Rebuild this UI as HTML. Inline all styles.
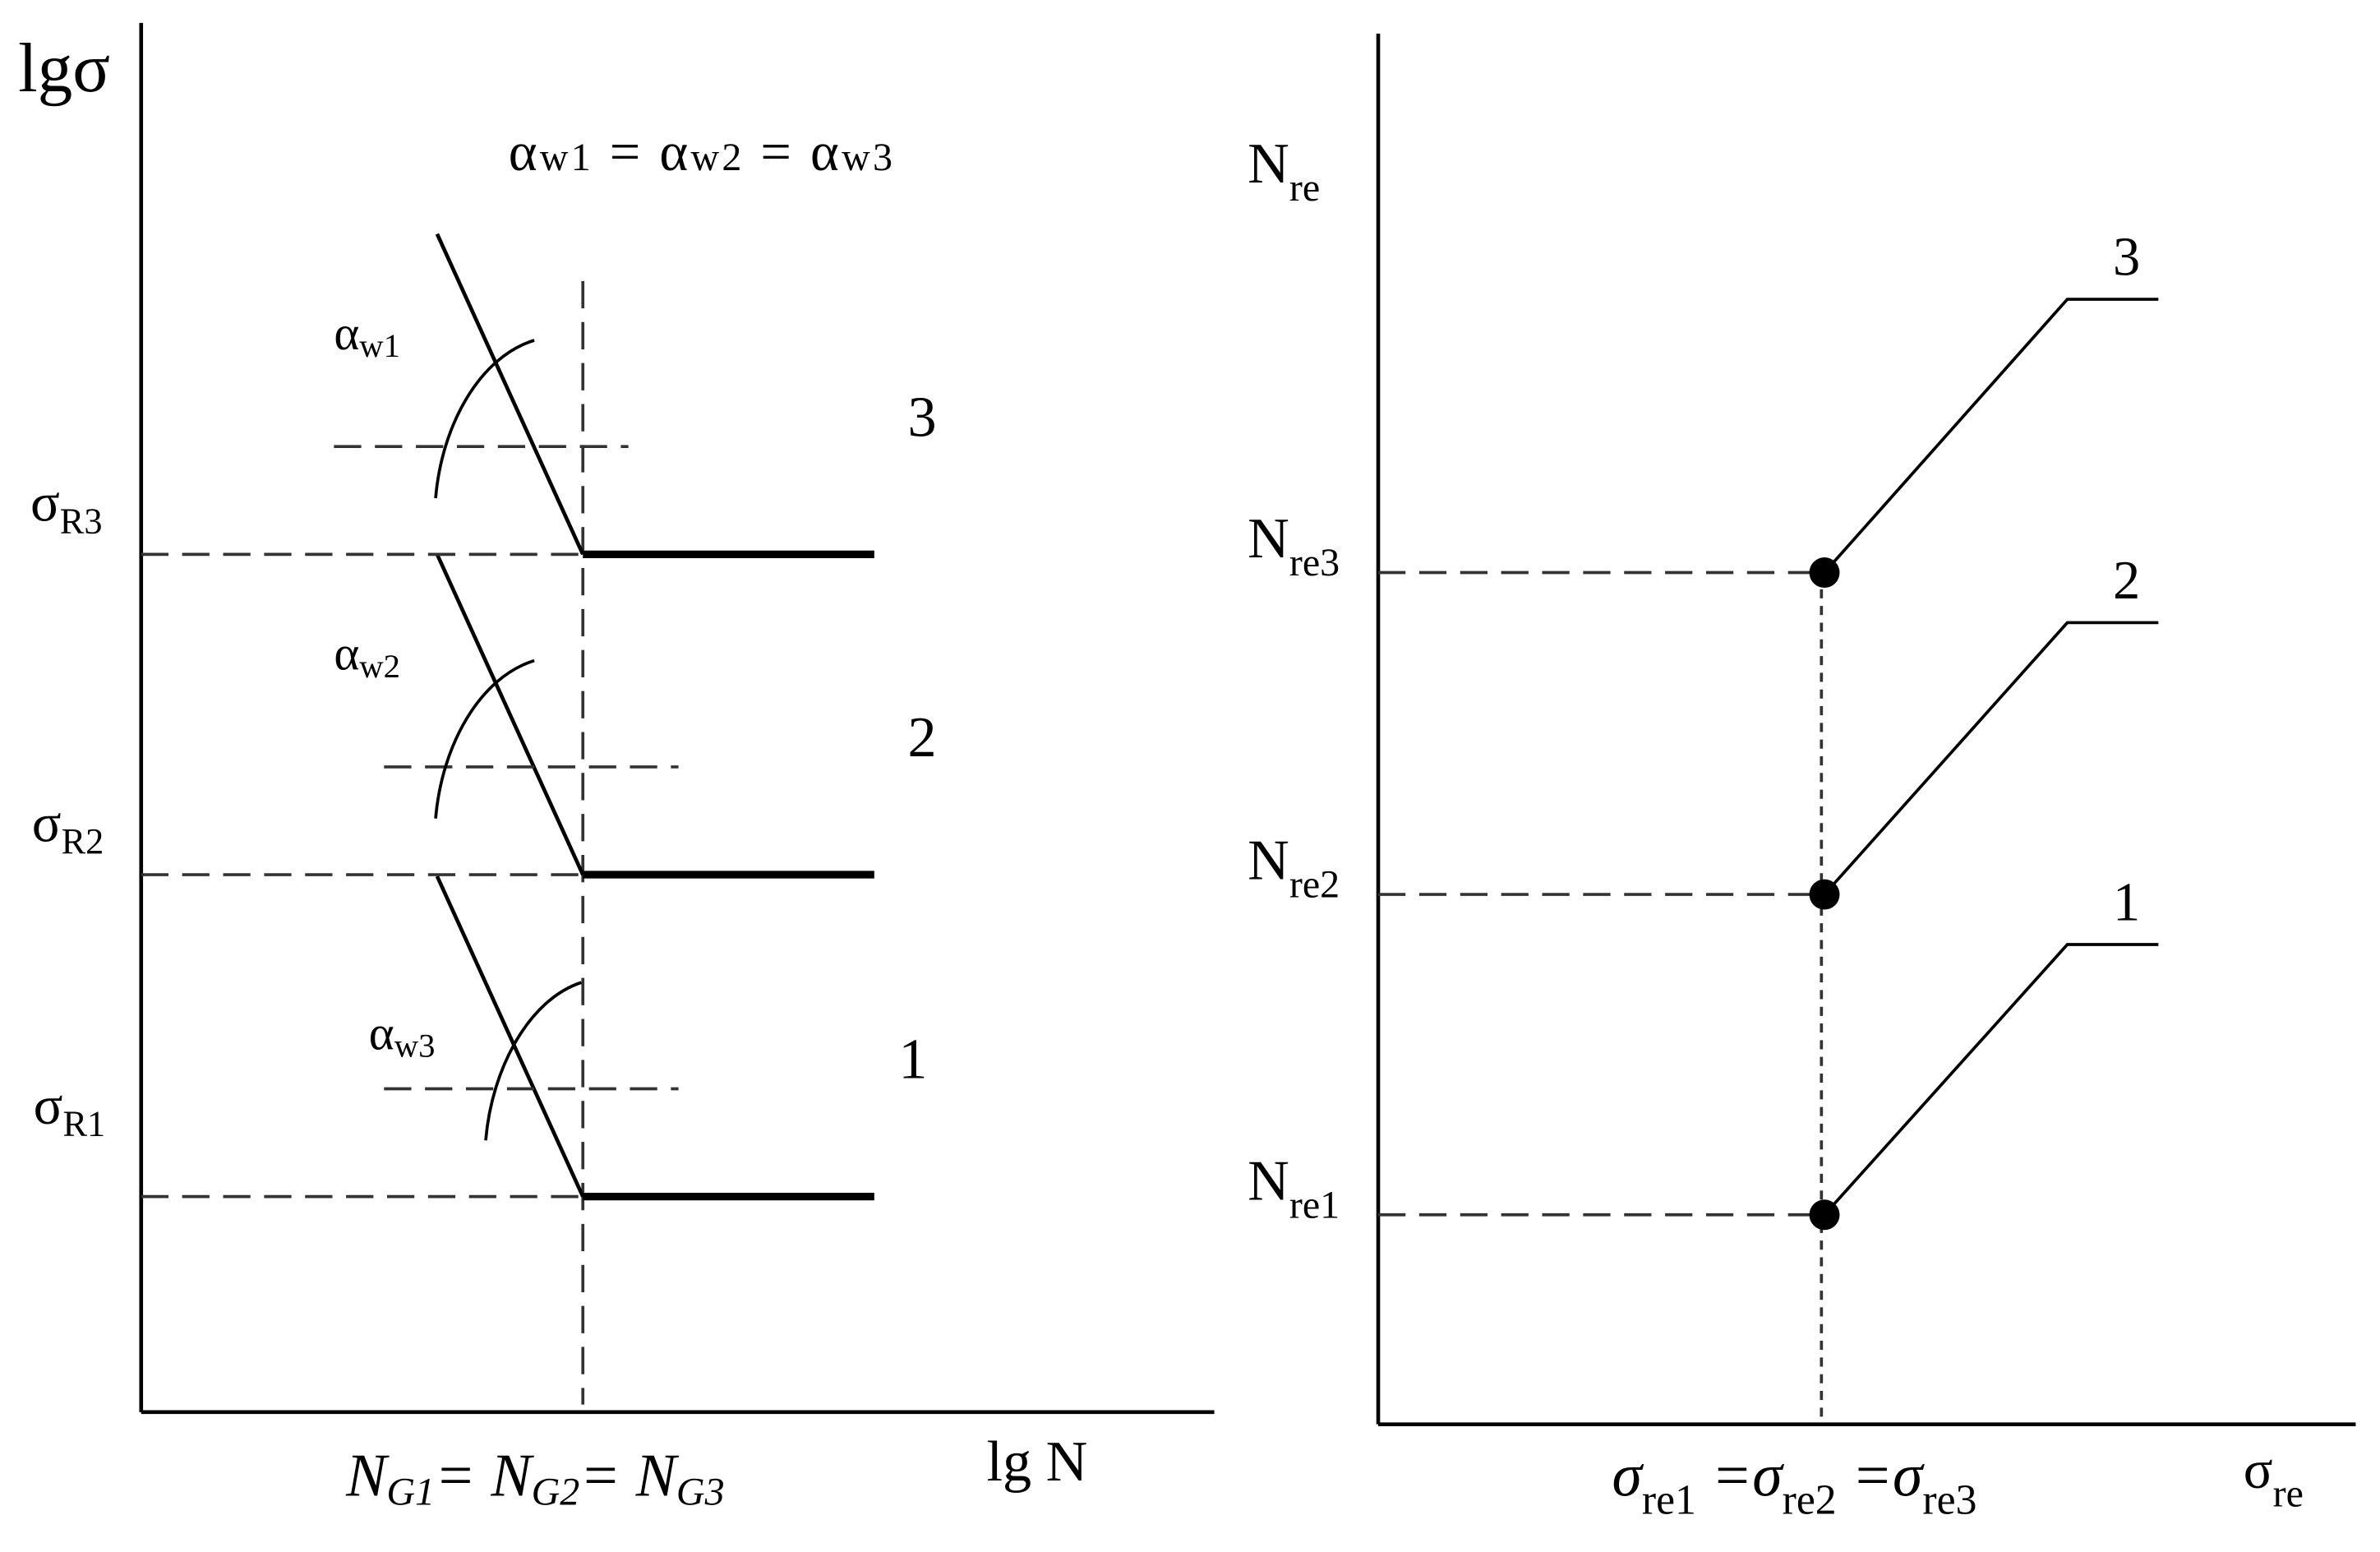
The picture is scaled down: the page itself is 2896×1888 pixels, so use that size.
<!DOCTYPE html>
<html><head><meta charset="utf-8"><style>
html,body{margin:0;padding:0;background:#fff;}
svg{display:block;}
text{font-family:"Liberation Serif",serif;fill:#000;}
</style></head><body>
<svg width="2896" height="1888" viewBox="0 0 1568 1022" xmlns="http://www.w3.org/2000/svg">
<g id="left" stroke="#000" fill="none">
  <line x1="93" y1="15" x2="93" y2="930" stroke-width="2.5"/>
  <line x1="93" y1="930" x2="800" y2="930" stroke-width="2.5"/>
  <line x1="384" y1="185" x2="384" y2="925" stroke-width="2" stroke-dasharray="18,9" stroke="#333"/>
</g>
<g id="right" stroke="#000" fill="none">
  <line x1="908" y1="22" x2="908" y2="938" stroke-width="2.5"/>
  <line x1="908" y1="938" x2="1552" y2="938" stroke-width="2.5"/>
  <line x1="1200" y1="377" x2="1200" y2="938" stroke-width="2" stroke-dasharray="6,5" stroke="#333"/>
</g>
<text x="12" y="60" font-size="46">lgσ</text>
<text x="335" y="112" font-size="36" textLength="253" lengthAdjust="spacing">α<tspan font-size="26">w1</tspan> = α<tspan font-size="26">w2</tspan> = α<tspan font-size="26">w3</tspan></text>
<text x="228" y="985" font-size="40" font-style="italic">N<tspan font-size="26" dy="6">G1</tspan><tspan dy="-6">= N</tspan><tspan font-size="26" dy="6">G2</tspan><tspan dy="-6">= N</tspan><tspan font-size="26" dy="6">G3</tspan></text>
<text x="650" y="975" font-size="38">lg N</text>
<text x="822" y="120" font-size="38">N<tspan font-size="26" dy="12">re</tspan></text>
<text x="1062" y="985" font-size="40" font-style="italic">σ<tspan font-size="28" dy="12" font-style="normal">re1</tspan><tspan dy="-12"> =σ</tspan><tspan font-size="28" dy="12" font-style="normal">re2</tspan><tspan dy="-12"> =σ</tspan><tspan font-size="28" dy="12" font-style="normal">re3</tspan></text>
<text x="1478" y="980" font-size="36">σ<tspan font-size="26" dy="12">re</tspan></text>
<script>
const levels = [1, 2, 3];
const leftLevelY = [788, 576, 365];
const sigmaSubs = ["R1", "R2", "R3"];
const alphaSubs = ["w3", "w2", "w1"];
const rightLevelY = [800, 589, 377];
const rightEndY = [622, 410, 197];
const nreSubs = ["re1", "re2", "re3"];
const NS = "http://www.w3.org/2000/svg";
const svg = document.querySelector('svg');
const L = document.getElementById('left'), R = document.getElementById('right');
function mk(tag, attrs, parent){const e=document.createElementNS(NS,tag);for(const k in attrs)e.setAttribute(k,attrs[k]);parent.appendChild(e);return e;}
function subText(el, main, sub, subSize, dy){
  el.appendChild(document.createTextNode(main));
  const t = mk('tspan',{'font-size':subSize,dy:dy},el);
  t.textContent = sub;
}
const NGx = 384, slopeDx = 96, slopeDy = 211;
levels.forEach((lv, i) => {
  const y = leftLevelY[i];
  let e = mk('line',{x1:93,y1:y,x2:NGx,y2:y,'stroke-width':2,'stroke-dasharray':'18,9',stroke:'#333'},L);
  
  
  e = mk('line',{x1:NGx,y1:y,x2:576,y2:y,'stroke-width':5},L);
  
  
  e = mk('line',{x1:NGx-slopeDx,y1:y-slopeDy,x2:NGx,y2:y,'stroke-width':2.5},L);
  
  
  const hy = y - 71;
  const hx0 = lv === 3 ? 220 : 253;
  e = mk('line',{x1:hx0,y1:hy,x2:hx0+194,y2:hy,'stroke-width':2,'stroke-dasharray':'18,9',stroke:'#333'},L);
  
  
  const ax = lv === 1 ? 320 : 287, ex = lv === 1 ? 383 : 352;
  e = mk('path',{d:`M${ax},${hy+34} C${ax+4},${hy-14} ${ax+29},${hy-59} ${ex},${hy-70}`,'stroke-width':2},L);
  
  
  const ay = lv === 1 ? hy - 26 : hy - 64;
  const alx = lv === 1 ? 243 : 220;
  e = mk('text',{x:alx,y:ay,'font-size':32},svg);
  subText(e, 'α', alphaSubs[i], 22, 5);
  
  
  e = mk('text',{x:22 + (1-lv)*1,y:y-22 + (lv===1?-26:0),'font-size':36},svg);
  subText(e, 'σ', sigmaSubs[i], 24, 8);
  
  
  e = mk('text',{x:lv===1?592:598,y:y-78,'font-size':38},svg);
  e.textContent = String(lv);
  
  
  const ry = rightLevelY[i];
  e = mk('line',{x1:908,y1:ry,x2:1200,y2:ry,'stroke-width':2,'stroke-dasharray':'18,9',stroke:'#333'},R);
  
  
  e = mk('polyline',{points:`1202,${ry} 1362,${rightEndY[i]} 1422,${rightEndY[i]}`,'stroke-width':2},R);
  
  
  e = mk('circle',{cx:1202,cy:ry,r:10,fill:'#000',stroke:'none'},R);
  
  
  e = mk('text',{x:1392,y:rightEndY[i]-16,'font-size':36},svg);
  e.textContent = String(lv);
  
  
  e = mk('text',{x:822,y:ry-10,'font-size':38},svg);
  subText(e, 'N', nreSubs[i], 26, 12);
  
  
});
</script>
</svg>
</body></html>
